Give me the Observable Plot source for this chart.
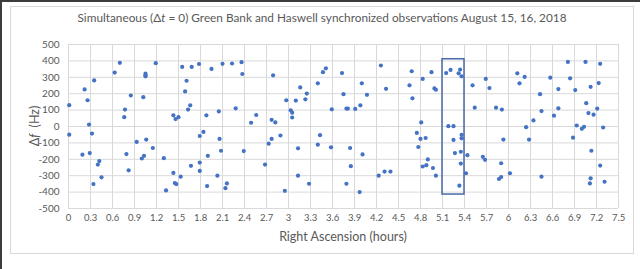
<!DOCTYPE html>
<html><head><meta charset="utf-8">
<script src="https://cdn.jsdelivr.net/npm/d3@7"></script>
<script src="https://cdn.jsdelivr.net/npm/@observablehq/plot@0.6"></script>
<style>
body{margin:0;background:#fff;}
#wrap{position:relative;width:640px;height:269px;overflow:hidden;font-family:Lato,"Open Sans",sans-serif;background:#fff;}
#outer{position:absolute;left:0;top:0;width:640px;height:269px;border-top:2px solid #3c3c3c;border-left:2px solid #3c3c3c;box-sizing:border-box;}
#box{position:absolute;left:10px;top:6px;width:624px;height:248px;border:1px solid #d9d9d9;box-sizing:border-box;}
#title{position:absolute;left:10px;width:624px;top:10px;text-align:center;font-size:11.8px;color:#595959;white-space:nowrap;}
#xlabel{position:absolute;left:68px;width:550px;top:229px;text-align:center;font-size:12.5px;color:#595959;}
#ylabel{position:absolute;left:34px;top:126px;transform:translate(-50%,-50%) rotate(-90deg);font-size:12.5px;color:#595959;white-space:nowrap;}
#chart{position:absolute;left:0;top:0;}
</style></head>
<body>
<div id="wrap">
<div id="outer"></div>
<div id="box"></div>
<div id="chart"></div>
<div id="title">Simultaneous (Δ<i>t</i> = 0) Green Bank and Haswell synchronized observations August 15, 16, 2018</div>
<div id="xlabel">Right Ascension (hours)</div>
<div id="ylabel">Δ<i>f</i>&nbsp; (Hz)</div>
</div>
<script>
const raHours = [0.01,0.01,0.19,0.22,0.26,0.28,0.29,0.32,0.34,0.35,0.40,0.42,0.45,0.63,0.70,0.76,0.77,0.79,0.82,0.85,0.93,1.00,1.02,1.03,1.05,1.05,1.05,1.06,1.15,1.19,1.30,1.33,1.43,1.43,1.45,1.46,1.47,1.50,1.53,1.55,1.59,1.61,1.63,1.66,1.67,1.68,1.78,1.79,1.79,1.79,1.84,1.88,1.90,1.89,1.95,2.03,2.05,2.06,2.08,2.10,2.14,2.16,2.23,2.28,2.36,2.37,2.39,2.49,2.56,2.68,2.73,2.77,2.77,2.79,2.82,2.89,2.95,2.97,3.03,3.05,3.05,3.10,3.13,3.13,3.16,3.23,3.25,3.28,3.40,3.40,3.43,3.47,3.51,3.58,3.59,3.73,3.75,3.79,3.81,3.79,3.84,3.85,3.91,3.97,3.98,4.00,4.01,4.07,4.23,4.26,4.31,4.33,4.39,4.65,4.68,4.69,4.75,4.77,4.80,4.81,4.83,4.83,4.87,4.88,4.90,4.95,4.97,4.99,5.01,5.01,5.15,5.18,5.21,5.25,5.25,5.27,5.32,5.34,5.35,5.35,5.36,5.36,5.36,5.33,5.42,5.44,5.51,5.54,5.65,5.68,5.69,5.74,5.83,5.90,5.91,5.93,5.87,5.90,6.02,6.12,6.15,6.22,6.24,6.28,6.34,6.43,6.45,6.45,6.57,6.62,6.68,6.68,6.81,6.84,6.88,6.91,6.93,7.00,7.03,7.05,7.06,7.09,7.12,7.13,7.12,7.11,7.16,7.21,7.23,7.25,7.25,7.29,7.31];
const deltaF = [130,-50,-172,226,160,12,-162,-43,-351,281,-232,-211,-310,329,388,57,103,-168,-267,189,-94,-195,179,-179,322,312,306,-80,-131,386,-193,-390,68,-283,-345,45,-351,57,-306,363,214,279,103,129,-240,363,381,-58,-220,-271,-33,68,-179,-363,351,-300,92,-76,-148,382,-376,-347,384,111,392,320,-150,23,70,-232,-105,41,-76,312,25,-55,-392,160,99,84,55,158,-300,-133,238,166,201,-349,263,-111,-53,331,355,-127,105,326,197,109,109,-349,-131,-242,107,-400,129,263,-170,193,-300,372,-275,230,-275,251,337,172,-39,-125,-76,25,290,-244,-70,-236,-201,331,-253,232,224,-300,326,2,345,-82,2,-162,324,347,-154,-226,306,-51,-72,-361,-285,-175,251,115,-185,-203,290,234,115,-224,103,-80,-320,-308,-285,324,263,302,-4,-80,37,197,94,-306,298,66,228,111,394,294,-68,222,6,-14,-2,394,142,82,242,-148,-316,-347,72,109,265,-238,382,-6,-337];
const xTicks = [0,0.3,0.6,0.9,1.2,1.5,1.8,2.1,2.4,2.7,3,3.3,3.6,3.9,4.2,4.5,4.8,5.1,5.4,5.7,6,6.3,6.6,6.9,7.2,7.5];
const yTicks = [-500,-400,-300,-200,-100,0,100,200,300,400,500];
const boxX = [5.1, 5.4];
const boxY = [-415, 410];

const points = raHours.map((x, i) => ({x, y: deltaF[i]}));
const box = [{x1: boxX[0], x2: boxX[1], y1: boxY[0], y2: boxY[1]}];

const chart = Plot.plot({
  width: 640, height: 269,
  marginLeft: 68, marginRight: 22, marginTop: 44, marginBottom: 61,
  style: {fontFamily: "Lato, 'Open Sans', sans-serif", background: "transparent", color: "#595959"},
  x: {domain: [0, 7.5]},
  y: {domain: [-500, 500]},
  marks: [
    Plot.gridX(xTicks, {stroke: "#d9d9d9", strokeOpacity: 1}),
    Plot.gridY(yTicks, {stroke: "#d9d9d9", strokeOpacity: 1}),
    Plot.dot(points, {x: "x", y: "y", r: 2.1, fill: "#4472c4", stroke: null}),
    Plot.rect(box, {x1: "x1", x2: "x2", y1: "y1", y2: "y2", fill: "none", stroke: "#4a6aa5", strokeWidth: 1.5}),
    Plot.axisX(xTicks, {tickSize: 0, tickPadding: 6, fontSize: 9.5, fill: "#595959", label: null, tickFormat: d => String(d)}),
    Plot.axisY(yTicks, {tickSize: 0, tickPadding: 9, fontSize: 10, fill: "#595959", label: null, tickFormat: d => String(d)})
  ]
});
document.getElementById("chart").appendChild(chart);
</script>
</body></html>
